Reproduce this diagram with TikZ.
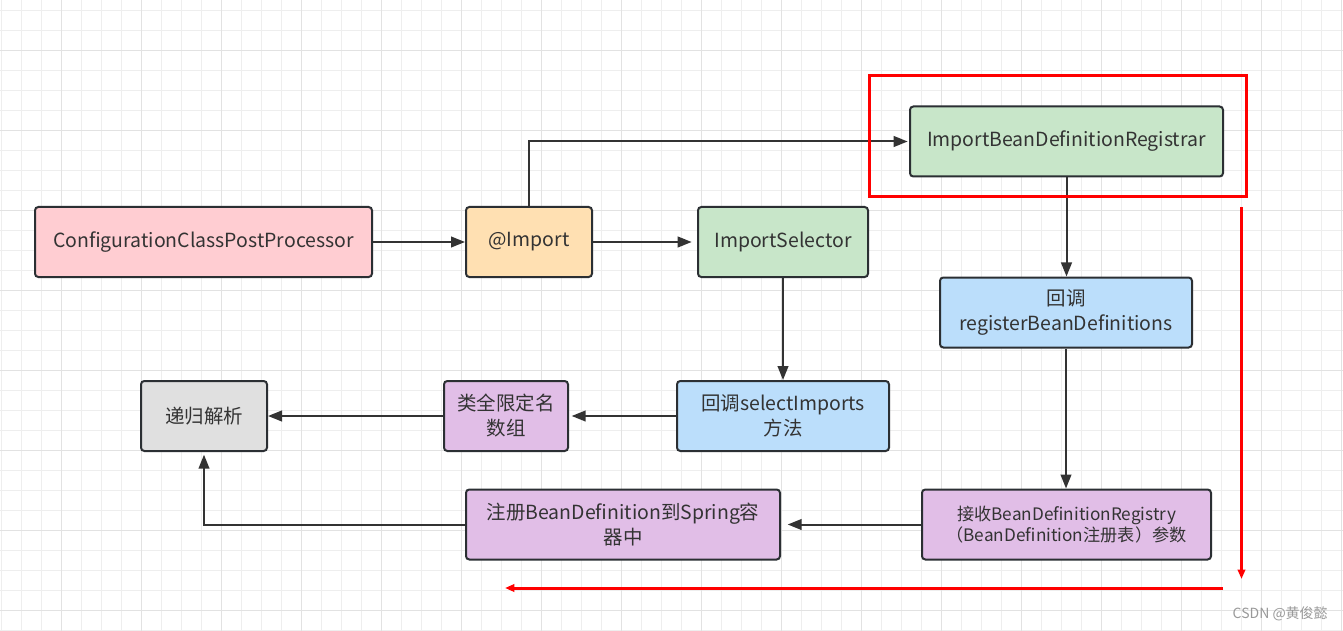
\documentclass[tikz,border=0pt]{standalone}
\usepackage{fontspec}
\setmainfont{Noto Sans CJK SC}
\usetikzlibrary{arrows.meta}
\definecolor{bordc}{HTML}{2B2F33}
\definecolor{linec}{HTML}{333333}
\definecolor{txt}{HTML}{333333}
\definecolor{cpink}{HTML}{FFCDD2}
\definecolor{cpeach}{HTML}{FFE0B2}
\definecolor{cgreen}{HTML}{C8E6C9}
\definecolor{cblue}{HTML}{BBDEFB}
\definecolor{cpurple}{HTML}{E1BEE7}
\definecolor{cgrey}{HTML}{E0E0E0}
\definecolor{gridminor}{HTML}{EEEEEE}
\definecolor{gridmajor}{HTML}{E2E2E2}
\definecolor{cred}{HTML}{FF0000}
\definecolor{wm}{HTML}{999999}
\tikzset{
  box/.style={draw=bordc, line width=1.5pt, rounded corners=2.5pt, align=center,
    text=txt, font=\fontsize{14.6}{18.75}\selectfont, inner sep=0pt,
    minimum height=52.5pt},
  smalltext/.style={font=\fontsize{12.9}{15.75}\selectfont},
  arr/.style={draw=linec, line width=1.5pt, -{Triangle[length=10.5pt,width=8pt]}},
  redline/.style={draw=cred, line width=2.25pt},
  redarr/.style={redline, -{Triangle[length=7pt,width=5.5pt]}},
}
\begin{document}
\begin{tikzpicture}[x=0.75pt,y=-0.75pt]
\useasboundingbox (0,0) rectangle (1343,631);
\fill[white] (0,0) rectangle (1343,631);
% grid
\foreach \x in {1.5,21.5,...,1342}
  \draw[gridminor, line width=0.75pt] (\x,0) -- (\x,631);
\foreach \y in {10.5,30.5,...,631}
  \draw[gridminor, line width=0.75pt] (0,\y) -- (1343,\y);
\foreach \x in {61.5,141.5,...,1342}
  \draw[gridmajor, line width=0.75pt] (\x,0) -- (\x,631);
\foreach \y in {50.5,130.5,...,631}
  \draw[gridmajor, line width=0.75pt] (0,\y) -- (1343,\y);

% nodes
\node[box, fill=cpink, minimum width=252.75pt] (ccpp) at (203.5,242) {ConfigurationClassPostProcessor};
\node[box, fill=cpeach, minimum width=94.5pt] (imp) at (529,242) {@Import};
\node[box, fill=cgreen, minimum width=127.5pt] (sel) at (783,242) {ImportSelector};
\node[box, fill=cgreen, minimum width=234.75pt] (ibdr) at (1066.5,141.5) {ImportBeanDefinitionRegistrar};
\node[box, fill=cblue, minimum width=189pt] (reg) at (1066,312.5) {回调\\registerBeanDefinitions};
\node[box, fill=cblue, minimum width=159pt] (si) at (783,416) {回调selectImports\\方法};
\node[box, fill=cpurple, minimum width=93pt] (qn) at (506,416) {类全限定名\\数组};
\node[box, fill=cgrey, minimum width=94.5pt] (dg) at (204,416) {递归解析};
\node[box, fill=cpurple, minimum width=235.5pt] (zc) at (623,524.5) {注册BeanDefinition到Spring容\\器中};
\node[box, smalltext, fill=cpurple, minimum width=216.75pt] (js) at (1066.5,524.5) {接收BeanDefinitionRegistry\\（BeanDefinition注册表）参数};

% connectors
\draw[arr] (ccpp.east) -- (imp.west);
\draw[arr, shorten >=4pt] (imp.east) -- (sel.west);
\draw[arr, shorten >=1pt] (imp.north) |- (ibdr.west);
\draw[arr] (sel.south) -- (si.north);
\draw[arr, shorten >=2pt] (si.west) -- (qn.east);
\draw[arr] (qn.west) -- (dg.east);
\draw[arr] (ibdr.south) -- (ibdr.south |- reg.north);
\draw[arr] (reg.south) -- (reg.south |- js.north);
\draw[arr, shorten >=5pt] (js.west) -- (zc.east);
\draw[arr, shorten >=2pt] (zc.west) -| (dg.south);

% red highlight
\node[draw=cred, line width=2.25pt, minimum width=282.75pt, minimum height=90.75pt, inner sep=0pt] (hl) at (1058,136) {};
\coordinate (rv1) at (1241.5,207);
\coordinate (rv2) at (1241.5,579);
\coordinate (rh1) at (1223,588);
\coordinate (rh2) at (505,588);
\draw[redarr] (rv1) -- (rv2);
\draw[redarr] (rh1) -- (rh2);

% watermark
\node[text=wm, font=\fontsize{10.5}{12}\selectfont, anchor=east, inner sep=0pt] (wmk) at (1328,614) {CSDN @黄俊懿};
\end{tikzpicture}
\end{document}
